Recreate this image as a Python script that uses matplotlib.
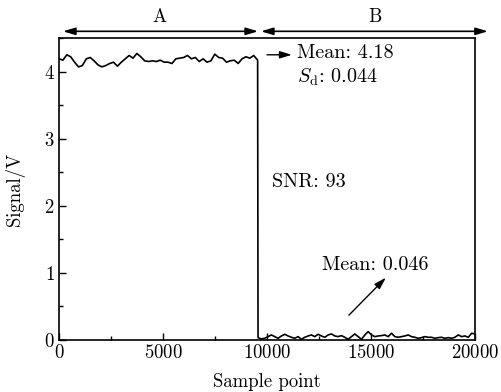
import numpy as np
import matplotlib.pyplot as plt

plt.rcParams['font.family'] = 'cmr10'
plt.rcParams['mathtext.fontset'] = 'cm'
plt.rcParams['axes.formatter.use_mathtext'] = True
plt.rcParams['font.size'] = 13.5

# high level segment (region A)
high_vals = [4.19, 4.17, 4.25, 4.22, 4.14, 4.07, 4.09, 4.19, 4.21, 4.16, 4.10, 4.07, 4.09,
             4.12, 4.14, 4.08, 4.14, 4.19, 4.24, 4.20, 4.27, 4.22, 4.16, 4.15, 4.16, 4.15,
             4.17, 4.14, 4.14, 4.12, 4.19, 4.20, 4.21, 4.24, 4.19, 4.21, 4.15, 4.19, 4.14,
             4.16, 4.26, 4.21, 4.20, 4.14, 4.16, 4.17, 4.12, 4.19, 4.22, 4.20, 4.24, 4.17]
# low level segment (region B)
low_vals = [0.035, 0.015, 0.025, 0.050, 0.075, 0.050, 0.025, 0.060, 0.085, 0.060, 0.040,
            0.025, 0.050, 0.010, 0.040, 0.060, 0.075, 0.050, 0.085, 0.060, 0.040, 0.075,
            0.090, 0.060, 0.050, 0.065, 0.040, 0.010, 0.050, 0.090, 0.050, 0.010, 0.075,
            0.125, 0.075, 0.050, 0.060, 0.065, 0.075, 0.050, 0.100, 0.050, 0.040, 0.050,
            0.060, 0.075, 0.050, 0.040, 0.025, 0.035, 0.050, 0.040, 0.040, 0.025, 0.035,
            0.040, 0.025, 0.035, 0.025, 0.040, 0.075, 0.050, 0.060, 0.040, 0.100, 0.090]
high_range = (0, 9550)
low_range = (9570, 20000)

x_high = np.linspace(high_range[0], high_range[1], len(high_vals))
x_low = np.linspace(low_range[0], low_range[1], len(low_vals))
x = np.concatenate([x_high, x_low])
y = np.concatenate([high_vals, low_vals])

fig = plt.figure(figsize=(5.01, 3.92), dpi=100)
ax = fig.add_axes([0.1178, 0.1327, 0.8302, 0.7703])
ax.plot(x, y, color='black', lw=1.2)

ax.set_xlim(0, 20000)
ax.set_ylim(0, 4.5)
ax.set_xticks([0, 5000, 10000, 15000, 20000])
ax.set_xticks(np.arange(0, 20001, 2500), minor=True)
ax.set_yticks([0, 1, 2, 3, 4])
ax.set_yticks(np.arange(0, 4.6, 0.5), minor=True)
ax.tick_params(direction='in', length=5, width=1, top=False, right=False, pad=3)
ax.tick_params(which='minor', direction='in', length=3, width=1, top=False, right=False)
for s in ax.spines.values():
    s.set_linewidth(1.2)
ax.set_xlabel('Sample point', labelpad=8)
ax.set_ylabel('Signal/V', labelpad=14)

# region arrows above the axes
arr = dict(arrowstyle='<|-|>,head_length=0.6,head_width=0.18', color='black', lw=1.2,
           mutation_scale=12, shrinkA=0, shrinkB=0)
ax.annotate('', xy=(190, 4.6), xytext=(9570, 4.6), arrowprops=arr, annotation_clip=False)
ax.annotate('', xy=(9710, 4.6), xytext=(20620, 4.6), arrowprops=arr, annotation_clip=False)
ax.text(4850, 4.82, 'A', ha='center', va='center')
ax.text(15190, 4.82, 'B', ha='center', va='center', clip_on=False)

one = dict(arrowstyle='-|>,head_length=0.6,head_width=0.18', color='black', lw=1.0,
           mutation_scale=12, shrinkA=0, shrinkB=0)
ax.annotate('', xy=(11200, 4.25), xytext=(10000, 4.25), arrowprops=one)
ax.text(11440, 4.27, 'Mean: 4.18', ha='left', va='center', fontsize=14.5)
ax.text(11440, 3.92, r'$S_\mathrm{d}$: 0.044', ha='left', va='center', fontsize=14.5)
ax.text(10240, 2.36, 'SNR: 93', ha='left', va='center', fontsize=14.5)
ax.text(12640, 1.12, 'Mean: 0.046', ha='left', va='center', fontsize=14.5)
ax.annotate('', xy=(15720, 0.93), xytext=(13940, 0.37), arrowprops=one)

fig.savefig('out.png', dpi=100)
